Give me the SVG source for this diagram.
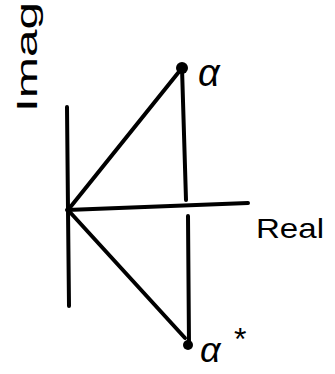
<svg xmlns="http://www.w3.org/2000/svg" width="335" height="374" viewBox="0 0 335 374">
<style>
.ln{stroke:#000;stroke-width:4;stroke-linecap:round;fill:none}
.t{font-family:"Liberation Sans",sans-serif;fill:#000}
</style>
<rect width="335" height="374" fill="#fff"/>
<g id="connectors">
<path class="ln" d="M67,107 L68,210 L69,306"/>
<path class="ln" d="M67,210 L248,203"/>
<path class="ln" d="M182,68 L186,200 M188,216 L189,345"/>
<path class="ln" d="M68,210 L182,68"/>
<path class="ln" d="M68,210 L185,338"/>
</g>
<g id="alpha">
<circle cx="182" cy="68" r="6" fill="#000"/>
<text class="t" x="198" y="86" font-size="38" font-style="italic">α</text>
</g>
<g id="alphastar">
<circle cx="188" cy="345" r="5" fill="#000"/>
<text class="t" x="200" y="362" font-size="36" font-style="italic">α</text>
<text class="t" x="234" y="350" font-size="32">*</text>
</g>
<g id="real">
<text class="t" x="256" y="238" font-size="28" textLength="68" lengthAdjust="spacingAndGlyphs">Real</text>
</g>
<g id="imag">
<text class="t" transform="translate(37,112) rotate(-90)" font-size="30" textLength="110" lengthAdjust="spacingAndGlyphs">Imag</text>
</g>
</svg>
